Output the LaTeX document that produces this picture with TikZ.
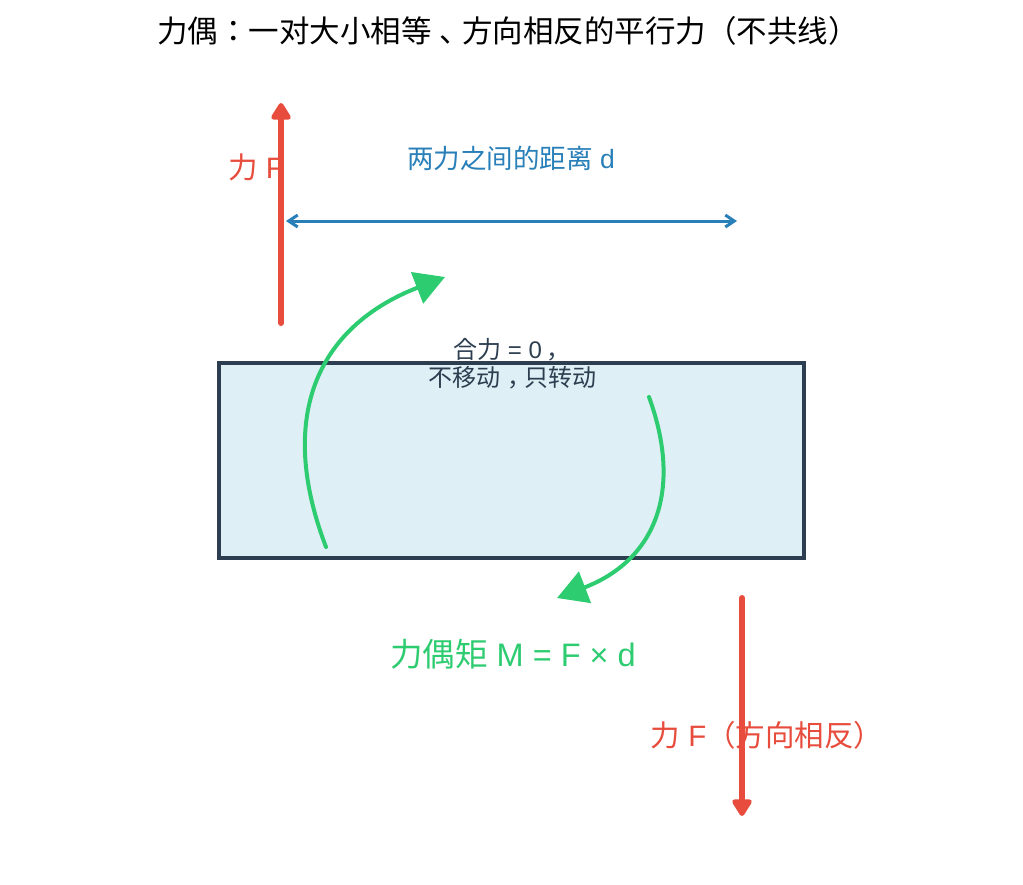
\documentclass[tikz,border=0pt]{standalone}
\usepackage{fontspec}
\setmainfont{Liberation Sans}
\newfontfamily\cjk{Noto Sans CJK JP}
\usetikzlibrary{arrows.meta}
\definecolor{cred}{HTML}{E74C3C}
\definecolor{cblue}{HTML}{2980B9}
\definecolor{cgreen}{HTML}{2ECC71}
\definecolor{cdark}{HTML}{2C3E50}
\definecolor{cfill}{HTML}{DFEFF6}
\tikzset{
  lbl/.style={inner sep=0pt, anchor=center},
  titlelbl/.style={lbl, text=black, font=\fontsize{30.5}{34}\selectfont},
  redlbl/.style={lbl, text=cred, font=\fontsize{29.5}{33}\selectfont},
  bluelbl/.style={lbl, text=cblue, font=\fontsize{26.5}{30}\selectfont},
  greenlbl/.style={lbl, text=cgreen, font=\fontsize{32.5}{36}\selectfont},
  darklbl/.style={lbl, text=cdark, align=center, font=\fontsize{24}{28}\selectfont},
  bodybox/.style={draw=cdark, fill=cfill, line width=4pt, inner sep=0pt, minimum width=585pt, minimum height=195pt},
  forcearrow/.style={draw=cred, line width=6pt, line cap=round, -{Triangle[length=19pt,width=22pt,round]}},
  distarrow/.style={draw=cblue, line width=3pt, {Straight Barb[length=9pt,width=12pt]}-{Straight Barb[length=9pt,width=12pt]}},
  turnarrow/.style={draw=cgreen, line width=4pt, line cap=round, -{Triangle[length=30pt,width=33pt]}}
}
\begin{document}
\begin{tikzpicture}[x=1pt,y=-1pt]
\useasboundingbox (0,0) rectangle (1023,884);
\fill[white] (0,0) rectangle (1023,884);
% title
\node[titlelbl] (title) at (508,31) {\cjk 力偶：一对大小相等\hspace{0.25em}、\hspace{-0.25em}方向相反的平行力（不共线）};
% body
\node[bodybox] (body) at (511.5,460.5) {};
% labels
\node[redlbl] (lblF) at (256,167) {{\cjk 力} F};
\node[bluelbl] (lbld) at (511,158) {{\cjk 两力之间的距离} d};
\node[darklbl] (lblR) at (512,364) {{\cjk 合力} = 0\hspace{0.2em}{\cjk ，}\hspace{-0.2em}\\{\cjk 不移动\hspace{0.3em}，\hspace{-0.3em}只转动}};
\node[greenlbl] (lblM) at (513,654) {{\cjk 力偶矩} M = F × d};
\node[redlbl] (lblF2) at (767,735) {{\cjk 力} F{\cjk （方向相反）}};
% coordinates
\coordinate (F1s) at (281,323);
\coordinate (F1e) at (281,103);
\coordinate (F2s) at (742,598);
\coordinate (F2e) at (742,816);
\coordinate (D1) at (286,221);
\coordinate (D2) at (737,221);
\coordinate (L0) at (326,547);
\coordinate (L1) at (277,419);
\coordinate (L2) at (315.3,327.4);
\coordinate (L3) at (445,277);
\coordinate (R0) at (649,397);
\coordinate (R1) at (683,490);
\coordinate (R2) at (656,560);
\coordinate (R3) at (557,598);
% arrows
\draw[forcearrow] (F1s) -- (F1e);
\draw[forcearrow] (F2s) -- (F2e);
\draw[distarrow] (D1) -- (D2);
\draw[turnarrow] (L0) .. controls (L1) and (L2) .. (L3);
\draw[turnarrow] (R0) .. controls (R1) and (R2) .. (R3);
\end{tikzpicture}
\end{document}
